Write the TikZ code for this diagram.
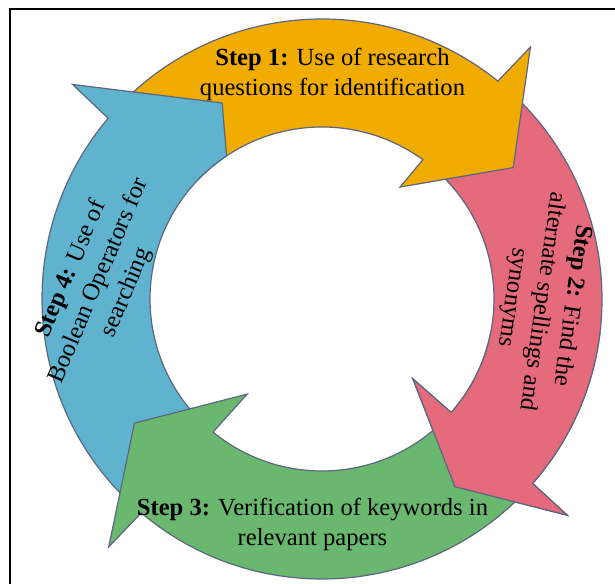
\documentclass[tikz,border=0pt]{standalone}
\usepackage{fontspec}
\setmainfont{Liberation Serif}

\definecolor{stepyellow}{RGB}{240,172,0}
\definecolor{steppink}{RGB}{229,106,124}
\definecolor{stepgreen}{RGB}{106,184,111}
\definecolor{stepblue}{RGB}{95,179,206}
\definecolor{edgegray}{RGB}{92,102,128}

% One curved arrow of the cycle, drawn about centre C:
% #1 rotation, #2 fill, #3 outer notch angle, #4 outer barb angle,
% #5 tip (polar), #6 inner barb (polar), #7 inner notch angle
\newcommand\cyclearrow[7]{%
  \filldraw[band, fill=#2, shift={(C)}, rotate=#1]
    (136.5:280) arc[start angle=136.5, end angle=#3, radius=280]
    -- (#4:327) -- (#5) -- (#6) -- (#7:172)
    arc[start angle=#7, end angle=136.5, radius=172] -- cycle;
}
\newcommand\pinkarrow{\cyclearrow{-90}{steppink}{48.8}{48.6}{35.3:230}{48.7:121}{48.7}}

\begin{document}
\begin{tikzpicture}[x=1pt,y=1pt,
  band/.style={draw=edgegray, line width=1.2pt, line join=miter},
  steptext/.style={font=\fontsize{24.6}{30}\selectfont, align=center,
                   inner sep=0pt, text=black}]

\useasboundingbox (0,0) rectangle (615,583);
\fill[white] (0,0) rectangle (615,583);
\coordinate (C) at (322,284);

% frame
\draw[line width=2pt] (10,-5) -- (10,574) -- (625,574);

% arrows, layered so that each head lies over the next tail
\pinkarrow
\cyclearrow{0}{stepyellow}{51.1}{50.4}{34.5:232}{55.1:136.5}{54.1}
\filldraw[band, fill=stepblue, shift={(C)}]
  (226.5:280) arc[start angle=226.5, end angle=139.8, radius=280]
  -- (139.3:329) -- (117:220) -- (123.7:172)
  arc[start angle=123.7, end angle=226.5, radius=172] -- cycle;
\cyclearrow{180}{stepgreen}{49.8}{49.3}{33.5:225}{51.8:121}{50.7}
\begin{scope}
  \clip (322,-5) rectangle (620,250);
  \pinkarrow
\end{scope}

% labels
\node[steptext] (s1) at (332.5,508.7)
  {\textbf{Step 1:} Use of research\\questions for identification};
\node[steptext, rotate=-98] (s2) at (542,281.5)
  {\textbf{Step 2:} Find the\\alternate spellings and\\synonyms};
\node[steptext] (s3) at (312.5,58.7)
  {\textbf{Step 3:} Verification of keywords in\\relevant papers};
\node[steptext, rotate=67] (s4) at (99,302)
  {\textbf{Step 4:} Use of\\Boolean Operators for\\searching};

\end{tikzpicture}
\end{document}
